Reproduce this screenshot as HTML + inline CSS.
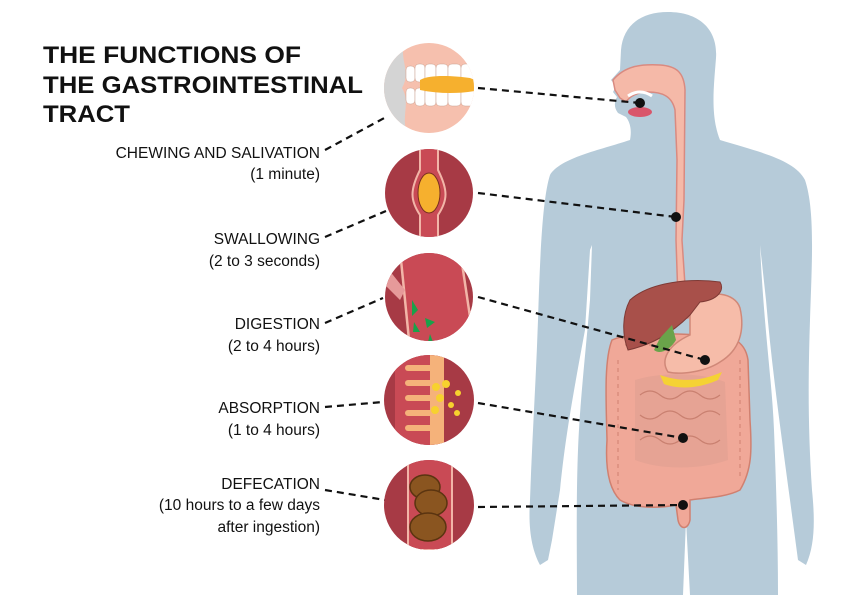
<!DOCTYPE html>
<html><head><meta charset="utf-8"><style>html,body{margin:0;padding:0;background:#fff}svg{display:block}</style></head>
<body>
<svg width="842" height="595" viewBox="0 0 842 595" xmlns="http://www.w3.org/2000/svg" font-family="Liberation Sans, sans-serif">
<defs>
<clipPath id="c1"><circle cx="429" cy="88" r="45"/></clipPath>
<clipPath id="c2"><circle cx="429" cy="193" r="44"/></clipPath>
<clipPath id="c3"><circle cx="429" cy="297" r="44"/></clipPath>
<clipPath id="c4"><circle cx="429" cy="400" r="45"/></clipPath>
<clipPath id="c5"><circle cx="429" cy="505" r="45"/></clipPath>
</defs>
<!-- body -->
<path fill="#b6cbd9" d="M668 12 C700 12 718 30 716 58 C714 85 710 115 720 140 C760 152 795 160 805 180 C815 210 812 260 810 320 C808 380 808 430 812 490 C815 520 815 545 806 565 L798 560 L790 500 C782 440 772 370 766 300 L760 245 C764 330 772 380 774 430 C776 480 778 540 778 595 L690 595 L686 520 L683 595 L577 595 C577 560 576 500 578 450 C580 400 585 360 590 300 L592 245 L590 250 L585 330 C572 400 565 440 560 490 L552 540 L548 560 L540 565 C532 550 528 530 530 500 C532 440 536 380 538 320 C540 260 542 200 550 175 C560 158 600 150 630 140 C632 130 630 122 626 117 L618 113 C614 108 614 102 617 97 L613 92 L616 86 L611 80 L620 70 L621 50 C623 26 640 12 668 12 Z"/>
<!-- digestive tract -->
<path fill="#f5b9a8" stroke="#d98a80" stroke-width="1.5" d="M613 80 C625 66 640 64 660 65 C676 66 684 72 685 90 L684 200 L682 240 L686 300 L692 312 L688 318 L681 318 L678 300 L676 240 L677 160 L675 110 C672 96 662 92 648 92 C638 92 630 96 626 102 L620 98 L615 90 Z"/>
<ellipse cx="640" cy="112" rx="12" ry="5" fill="#d9566b"/>
<path d="M628 96 Q640 88 652 96" stroke="#fff" stroke-width="3" fill="none"/>
<!-- intestines -->
<path fill="#f0a898" stroke="#d08070" stroke-width="1.5" d="M612 340 C630 332 660 333 700 335 C730 333 745 340 748 360 L750 420 C752 450 752 470 740 490 C725 498 700 498 690 500 L690 520 C688 530 680 530 678 520 L676 505 C650 510 630 506 620 500 C610 490 605 470 607 440 C606 400 604 360 612 340 Z"/>
<path fill="#e6a394" d="M635 380 C660 372 700 372 725 382 L728 460 C700 470 660 470 635 460 Z"/>
<path fill="none" stroke="#c98070" stroke-width="1.2" d="M640 395 q10 -8 20 0 t20 0 t20 0 t20 0 M640 415 q10 8 20 0 t20 0 t20 0 t20 0 M640 440 q10 -8 20 0 t20 0 t20 0 t20 0"/>
<path fill="none" stroke="#d08070" stroke-width="1" stroke-dasharray="4,4" d="M618 360 L618 490 M740 360 L740 480 M625 345 L735 345"/>
<!-- stomach -->
<path fill="#f6bca9" stroke="#d08878" stroke-width="1.5" d="M690 300 C710 290 735 292 740 308 C745 330 740 350 720 362 C705 372 680 375 668 372 C660 360 668 345 690 335 Z"/>
<path fill="#f5d234" d="M660 375 C680 382 700 382 722 372 L718 380 C700 388 680 390 664 384 Z"/>
<!-- liver -->
<path fill="#a8504a" stroke="#7e3a35" stroke-width="1" d="M630 300 C650 282 690 278 720 282 C725 290 718 300 700 302 L690 315 C670 335 650 345 628 350 C622 335 622 315 630 300 Z"/>
<path fill="#6aa34a" d="M660 338 L672 325 L676 340 C670 350 660 355 654 350 Z"/>
<!-- dashed connectors -->
<g stroke="#111" stroke-width="2.2" stroke-dasharray="7,5" fill="none">
<path d="M478 88 L640 103"/><path d="M478 193 L676 217"/><path d="M478 297 L705 360"/><path d="M478 403 L683 438"/><path d="M478 507 L683 505"/>
<path d="M325 150 L388 116"/><path d="M325 237 L386 211"/><path d="M325 323 L383 298"/><path d="M325 407 L383 402"/><path d="M325 490 L385 500"/>
</g>
<g fill="#111"><circle cx="640" cy="103" r="5"/><circle cx="676" cy="217" r="5"/><circle cx="705" cy="360" r="5"/><circle cx="683" cy="438" r="5"/><circle cx="683" cy="505" r="5"/></g>
<!-- circle 1: mouth -->
<g clip-path="url(#c1)">
<rect x="380" y="40" width="100" height="100" fill="#f6c0ae"/>
<path d="M380 40 L405 40 C398 60 412 70 402 88 C412 105 398 118 410 140 L380 140 Z" fill="#d4d4d4"/>
<g fill="#fff" stroke="#c9a090" stroke-width="0.5">
<rect x="406" y="66" width="9" height="16" rx="4"/><rect x="415" y="64" width="10" height="18" rx="4"/><rect x="425" y="64" width="11" height="18" rx="4"/><rect x="436" y="64" width="12" height="18" rx="4"/><rect x="448" y="64" width="13" height="18" rx="4"/><rect x="461" y="64" width="14" height="18" rx="4"/>
<rect x="406" y="88" width="9" height="16" rx="4"/><rect x="415" y="88" width="10" height="18" rx="4"/><rect x="425" y="88" width="11" height="18" rx="4"/><rect x="436" y="88" width="12" height="18" rx="4"/><rect x="448" y="88" width="13" height="18" rx="4"/><rect x="461" y="88" width="14" height="18" rx="4"/>
</g>
<path d="M420 80 C430 74 455 76 470 78 L480 82 L480 90 C460 94 440 94 420 90 Z" fill="#f6b02e"/>
</g>
<!-- circle 2 -->
<g clip-path="url(#c2)">
<rect x="380" y="145" width="100" height="100" fill="#a73a45"/>
<path d="M420 145 L420 170 C410 190 410 200 420 215 L420 245 L438 245 L438 215 C448 200 448 190 438 170 L438 145 Z" fill="#c94a55" stroke="#f2b5a8" stroke-width="2"/>
<ellipse cx="429" cy="193" rx="11" ry="20" fill="#f6b02e" stroke="#7a3020" stroke-width="1"/>
</g>
<!-- circle 3 -->
<g clip-path="url(#c3)">
<rect x="380" y="250" width="100" height="100" fill="#a73a45"/>
<path d="M400 250 L460 250 L475 350 L410 350 Z" fill="#c94a55" stroke="#f2b5a8" stroke-width="2.5"/>
<path d="M380 280 L400 300 L405 290 L385 265 Z" fill="#e69a9a"/>
<path d="M412 300 l6 10 l-6 6 z M425 318 l10 4 l-8 6 z M414 322 l6 10 l-7 0 z M430 334 l3 8 h-5 z" fill="#1aa14a"/>
</g>
<!-- circle 4 -->
<g clip-path="url(#c4)">
<rect x="380" y="352" width="100" height="100" fill="#a73a45"/>
<rect x="395" y="352" width="45" height="100" fill="#c94a55"/>
<rect x="430" y="352" width="14" height="100" fill="#f5b27a"/>
<g fill="#f5b27a"><rect x="405" y="365" width="28" height="6" rx="3"/><rect x="405" y="380" width="28" height="6" rx="3"/><rect x="405" y="395" width="28" height="6" rx="3"/><rect x="405" y="410" width="28" height="6" rx="3"/><rect x="405" y="425" width="28" height="6" rx="3"/></g>
<g fill="#f7d12e"><circle cx="436" cy="387" r="4"/><circle cx="446" cy="384" r="4"/><circle cx="440" cy="398" r="4"/><circle cx="435" cy="410" r="4"/><circle cx="451" cy="405" r="3"/><circle cx="458" cy="393" r="3"/><circle cx="457" cy="413" r="3"/></g>
</g>
<!-- circle 5 -->
<g clip-path="url(#c5)">
<rect x="380" y="458" width="100" height="100" fill="#a73a45"/>
<path d="M408 458 L408 550 L452 550 L452 458 Z" fill="#c94a55" stroke="#f2b5a8" stroke-width="2"/>
<g fill="#8a5520" stroke="#5a3410" stroke-width="1.5"><ellipse cx="425" cy="487" rx="15" ry="12"/><ellipse cx="431" cy="503" rx="16" ry="13"/><ellipse cx="428" cy="527" rx="18" ry="14"/></g>
</g>
<!-- title -->
<g font-weight="bold" font-size="24" fill="#111">
<text x="43" y="63" textLength="258" lengthAdjust="spacingAndGlyphs">THE FUNCTIONS OF</text>
<text x="43" y="93" textLength="320" lengthAdjust="spacingAndGlyphs">THE GASTROINTESTINAL</text>
<text x="43" y="122" textLength="87" lengthAdjust="spacingAndGlyphs">TRACT</text>
</g>
<g font-size="15.5" fill="#111" text-anchor="end">
<text x="320" y="158">CHEWING AND SALIVATION</text><text x="320" y="179">(1 minute)</text>
<text x="320" y="244">SWALLOWING</text><text x="320" y="266">(2 to 3 seconds)</text>
<text x="320" y="329">DIGESTION</text><text x="320" y="351">(2 to 4 hours)</text>
<text x="320" y="413">ABSORPTION</text><text x="320" y="435">(1 to 4 hours)</text>
<text x="320" y="489">DEFECATION</text><text x="320" y="510">(10 hours to a few days</text><text x="320" y="532">after ingestion)</text>
</g>
</svg>
</body></html>
